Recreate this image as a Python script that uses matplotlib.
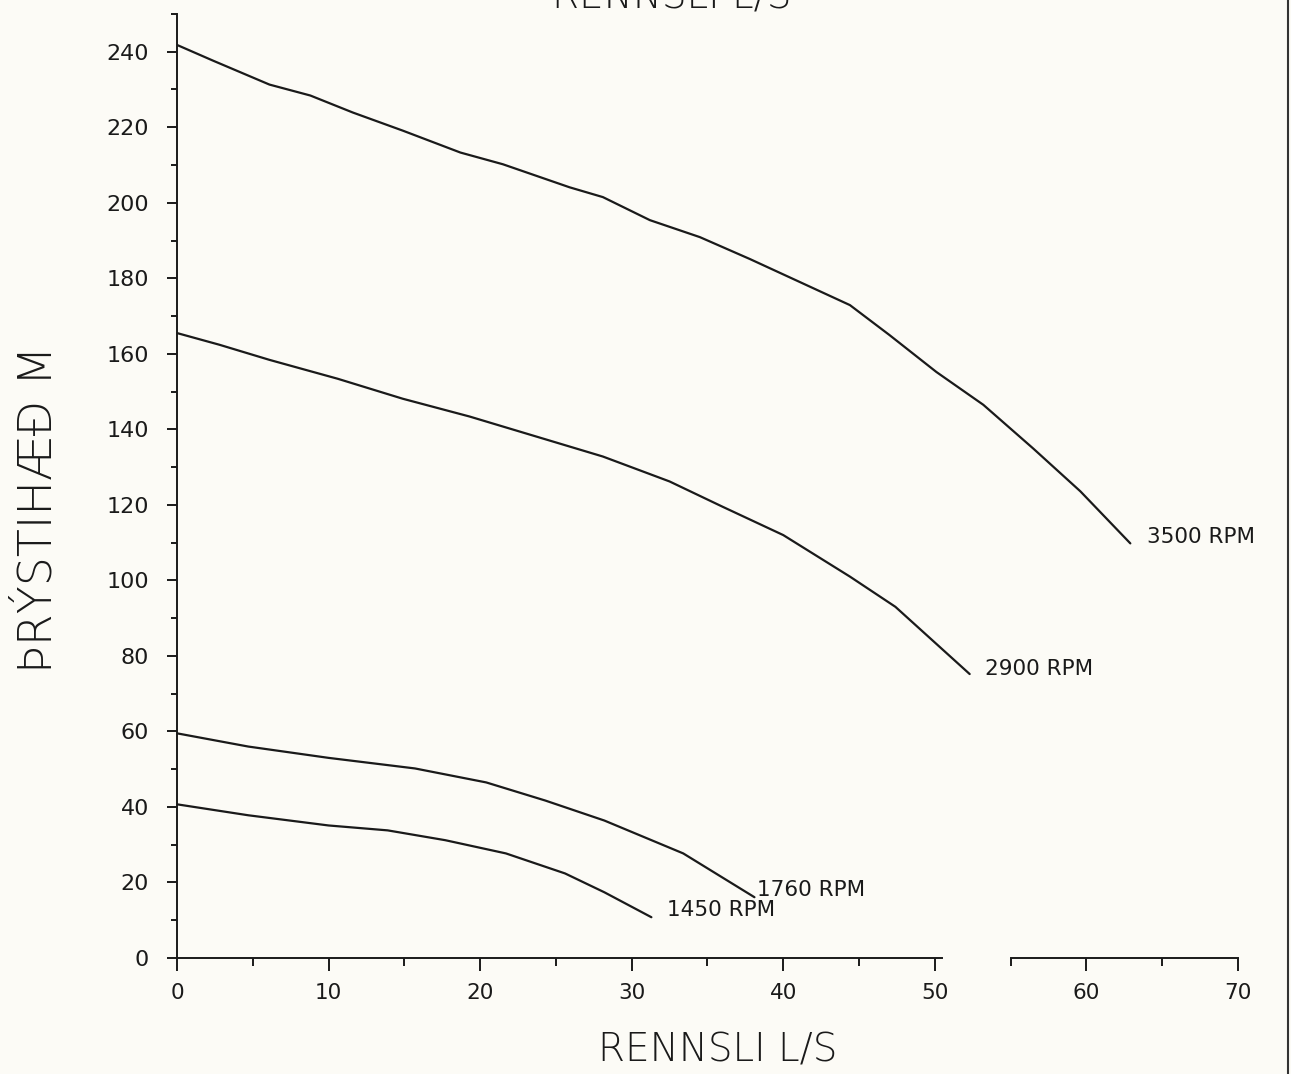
import matplotlib.pyplot as plt
from matplotlib.lines import Line2D

# pump curves: flow (L/s) vs head (m)
q_3500 = [0, 2.4, 6.1, 8.8, 11.6, 14.9, 18.7, 21.5, 25.9, 28.1, 31.2, 34.5,
          37.8, 41.1, 44.4, 47.0, 50.1, 53.2, 56.5, 59.6, 62.9]
h_3500 = [241.8, 237.6, 231.3, 228.4, 223.9, 219.1, 213.3, 210.2, 204.1, 201.5,
          195.4, 190.9, 185.1, 179.0, 172.9, 165.0, 155.2, 146.5, 134.9, 123.6, 109.8]

q_2900 = [0, 2.8, 6.1, 10.6, 14.9, 19.3, 23.7, 28.1, 32.5, 36.0, 40.0, 44.4, 47.4, 52.3]
h_2900 = [165.5, 162.4, 158.4, 153.4, 148.1, 143.4, 138.1, 132.8, 126.2, 119.5,
          112.0, 101.0, 93.0, 75.2]

q_1760 = [0, 4.7, 10.0, 15.7, 20.4, 24.3, 28.2, 33.4, 38.1]
h_1760 = [59.5, 56.0, 53.0, 50.2, 46.5, 41.7, 36.4, 27.7, 16.1]

q_1450 = [0, 4.7, 10.0, 13.9, 17.7, 21.7, 25.6, 28.2, 31.3]
h_1450 = [40.7, 37.8, 35.1, 33.8, 31.2, 27.7, 22.4, 17.4, 10.8]

curves = [(q_3500, h_3500, '3500 RPM', (12, 4.5)),
          (q_2900, h_2900, '2900 RPM', (11, 3.5)),
          (q_1760, h_1760, '1760 RPM', (1.5, 5)),
          (q_1450, h_1450, '1450 RPM', (11.5, 5))]

x_major = list(range(0, 71, 10))
x_minor = list(range(5, 70, 10))
y_major = list(range(0, 241, 20))
y_minor = list(range(10, 251, 20))
x_axis_segments = [(0, 50.5), (55, 70)]

paper = '#fcfbf6'
ink = '#1a1a1a'

fig = plt.figure(figsize=(12.91, 10.74), dpi=100, facecolor=paper)
ax = fig.add_axes([0.1371, 0.108, 0.8218, 0.879], facecolor=paper)

for q, h, lab, off in curves:
    ax.plot(q, h, color=ink, lw=1.6, solid_capstyle='round')
    ax.annotate(lab, (q[-1], h[-1]), xytext=off, textcoords='offset points',
                ha='left', va='center', fontsize=15.5, color=ink)

ax.set_xlim(0, 70)
ax.set_ylim(0, 250)

for s in ['top', 'right', 'bottom']:
    ax.spines[s].set_visible(False)
ax.spines['left'].set_linewidth(1.4)
ax.spines['left'].set_color(ink)
for a, b in x_axis_segments:
    ax.plot([a, b], [0, 0], color=ink, lw=1.4, clip_on=False)

ax.set_xticks(x_major)
ax.set_xticks(x_minor, minor=True)
ax.set_yticks(y_major)
ax.set_yticks(y_minor, minor=True)
ax.tick_params(axis='x', which='major', length=9, width=1.4, pad=9,
               labelsize=15.5, colors=ink)
ax.tick_params(axis='x', which='minor', length=5.5, width=1.4, colors=ink)
ax.tick_params(axis='y', which='major', length=7, width=1.4, pad=13,
               labelsize=16, colors=ink)
ax.tick_params(axis='y', which='minor', length=4, width=1.4, colors=ink)

ax.set_xlabel('RENNSLI L/S', fontsize=28, color=ink, fontweight='light')
ax.xaxis.set_label_coords(0.51, -0.078)
ax.xaxis.label.set_va('top')
ax.set_ylabel('ÞRÝSTIHÆÐ M', fontsize=33, color=ink, fontweight='light')
ax.yaxis.set_label_coords(-0.11, 0.475)

# cut-off title at the very top of the scan
fig.text(0.52, 1 - 8 / 1074, 'RENNSLI L/S', ha='center', va='baseline',
         fontsize=28, color=ink, fontweight='light')

# edge of the scanned sheet
fig.add_artist(Line2D([0.998, 0.998], [0, 1], color='#333333', lw=1.5))

fig.savefig('out.png', dpi=100, facecolor=paper)
